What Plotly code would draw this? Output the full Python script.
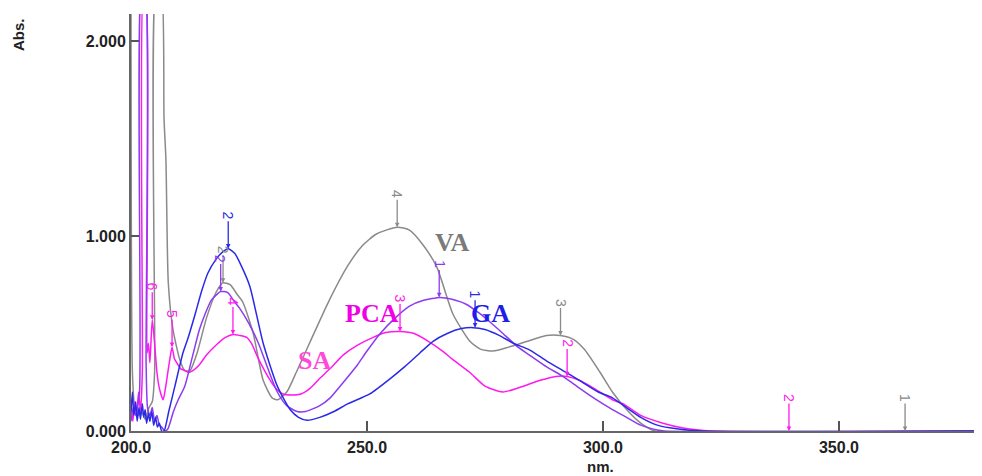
import plotly.graph_objects as go

# ---------------- data ----------------
va_nm = [200.0, 200.3, 200.8, 201.5, 202.2, 203.0, 203.8, 204.5, 205.0, 205.4, 206.3, 207.0, 207.4, 207.9,
         208.9, 210.4, 211.4, 212.5, 214.0, 216.0, 218.0, 219.5, 221.0, 222.5, 223.7, 225.9, 228.0, 229.9,
         231.1, 233.0, 235.0, 238.0, 242.0, 246.0, 249.0, 252.0, 256.4, 259.0, 262.0, 264.8, 268.2, 271.8,
         274.0, 276.7, 280.0, 284.0, 288.0, 291.0, 293.7, 296.0, 299.4, 302.0, 305.0, 308.0, 311.0, 380.0]
va_abs = [2.30, 0.30, 0.12, 0.08, 0.10, 0.06, 0.12, 0.15, 0.30, 2.30, 2.30, 1.60, 1.39, 0.76,
          0.52, 0.36, 0.31, 0.31, 0.40, 0.58, 0.71, 0.76, 0.75, 0.70, 0.66, 0.50, 0.26, 0.17,
          0.16, 0.20, 0.30, 0.46, 0.67, 0.85, 0.95, 1.01, 1.045, 1.03, 0.95, 0.84, 0.60, 0.46,
          0.42, 0.41, 0.43, 0.46, 0.49, 0.49, 0.47, 0.42, 0.30, 0.20, 0.11, 0.04, 0.0, 0.0]

ga_nm = [200.0, 200.3, 200.6, 201.0, 201.3, 201.7, 202.0, 202.4, 202.7, 203.0, 203.3, 203.7, 204.0, 204.4,
         204.8, 205.2, 205.6, 206.0, 206.5, 207.0, 208.0, 209.3, 211.0, 212.0, 213.6, 215.0, 216.3, 218.0,
         219.5, 220.6, 222.0, 223.5, 225.2, 228.0, 231.0, 233.7, 235.5, 237.3, 240.0, 243.0, 246.0, 250.6,
         255.0, 258.0, 261.2, 264.0, 267.0, 270.0, 272.5, 275.0, 278.0, 281.0, 284.5, 288.0, 291.5, 295.0,
         299.0, 302.0, 305.0, 308.0, 311.5, 316.0, 321.0, 380.0]
ga_abs = [0.10, 0.20, 0.08, 0.15, 0.05, 0.12, 0.06, 0.14, 0.07, 0.11, 0.04, 0.09, 0.05, 0.10,
          0.03, 0.07, 0.02, 0.04, 0.0, 0.0, 0.10, 0.23, 0.40, 0.47, 0.60, 0.72, 0.81, 0.88,
          0.92, 0.935, 0.91, 0.84, 0.74, 0.45, 0.23, 0.11, 0.07, 0.055, 0.07, 0.10, 0.14, 0.19,
          0.27, 0.33, 0.40, 0.46, 0.50, 0.525, 0.53, 0.52, 0.49, 0.45, 0.415, 0.36, 0.31, 0.26,
          0.20, 0.17, 0.12, 0.07, 0.03, 0.01, 0.0, 0.0]

sa_nm = [200.0, 200.5, 201.0, 201.8, 202.3, 202.9, 203.2, 203.5, 204.0, 204.5, 205.0, 205.5, 206.0, 206.5,
         207.2, 207.8, 209.0, 210.0, 211.4, 213.0, 214.5, 215.7, 217.0, 219.0, 220.5, 222.0, 223.0, 225.0,
         227.0, 229.0, 231.0, 233.0, 235.2, 237.0, 240.0, 242.2, 245.0, 248.0, 250.0, 252.8, 256.0, 259.0,
         262.0, 265.5, 268.0, 271.0, 274.0, 276.0, 278.8, 282.0, 285.0, 288.0, 291.5, 295.0, 298.0, 302.0,
         305.0, 308.0, 311.5, 313.0, 380.0]
sa_abs = [0.05, 0.12, 0.08, 0.20, 2.30, 2.30, 0.35, 0.12, 0.08, 0.12, 0.05, 0.08, 0.03, 0.02,
          0.0, 0.01, 0.10, 0.16, 0.23, 0.38, 0.52, 0.60, 0.67, 0.715, 0.71, 0.66, 0.63, 0.55,
          0.45, 0.32, 0.20, 0.13, 0.10, 0.10, 0.13, 0.17, 0.25, 0.34, 0.41, 0.50, 0.58, 0.64,
          0.67, 0.685, 0.675, 0.65, 0.60, 0.56, 0.50, 0.43, 0.38, 0.33, 0.28, 0.22, 0.17, 0.11,
          0.07, 0.03, 0.005, 0.0, 0.0]

pca_nm = [200.0, 200.4, 200.8, 201.2, 201.6, 202.0, 202.4, 202.7, 203.1, 203.4, 203.7, 204.0, 204.5, 205.0,
          205.5, 206.0, 206.8, 207.3, 207.8, 208.3, 208.7, 209.2, 209.7, 210.5, 211.4, 212.2, 213.1, 214.5,
          216.0, 218.0, 220.0, 221.6, 223.0, 224.5, 225.5, 227.0, 229.5, 231.0, 232.2, 234.0, 236.0, 238.0,
          240.0, 242.2, 245.0, 248.0, 251.3, 254.0, 257.0, 260.0, 263.0, 266.0, 268.0, 271.8, 275.0, 278.8,
          282.0, 286.7, 290.0, 292.4, 295.0, 298.0, 302.0, 304.2, 308.0, 312.7, 317.0, 323.0, 380.0]
pca_abs = [0.12, 0.05, 0.15, 0.08, 0.20, 0.10, 0.30, 2.30, 2.30, 0.40, 0.45, 0.35, 0.57, 0.45,
           0.30, 0.22, 0.16, 0.22, 0.30, 0.38, 0.43, 0.37, 0.35, 0.32, 0.31, 0.30, 0.31, 0.34,
           0.39, 0.44, 0.48, 0.495, 0.49, 0.48, 0.45, 0.37, 0.26, 0.21, 0.19, 0.185, 0.19, 0.22,
           0.27, 0.32, 0.39, 0.44, 0.48, 0.505, 0.51, 0.50, 0.46, 0.41, 0.37, 0.30, 0.23, 0.20,
           0.22, 0.26, 0.28, 0.28, 0.26, 0.22, 0.16, 0.14, 0.08, 0.04, 0.015, 0.0, 0.0]

# peak markers: (nm, abs, label)
va_peaks = [(219.5, 0.76, "2"), (256.4, 1.045, "4"), (291.0, 0.49, "3"), (364.0, 0.0, "1")]
ga_peaks = [(220.6, 0.935, "2"), (272.9, 0.53, "1")]
sa_peaks = [(219.0, 0.715, "2"), (265.3, 0.685, "1")]
pca_peaks = [(204.5, 0.57, "6"), (208.7, 0.43, "5"), (221.6, 0.495, "4"), (257.0, 0.51, "3"),
             (292.4, 0.28, "2"), (339.4, 0.0, "2")]

x_ticks = [200, 250, 300, 350]
x_tick_text = ["200.0", "250.0", "300.0", "350.0"]
y_ticks = [0, 1, 2]
y_tick_text = ["0.000", "1.000", "2.000"]

# ---------------- styling ----------------
C_VA = "#8a8a8a"
C_GA = "#2a2ae6"
C_SA = "#8c3cf0"
C_PCA = "#ff1aee"
SANS = "Liberation Sans, Arial"

fig = go.Figure()
for nm, ab, col in [(va_nm, va_abs, C_VA), (pca_nm, pca_abs, C_PCA), (sa_nm, sa_abs, C_SA), (ga_nm, ga_abs, C_GA)]:
    fig.add_trace(go.Scatter(x=nm, y=ab, mode="lines",
                             line=dict(color=col, width=1.5, shape="spline", smoothing=0.6),
                             showlegend=False, hoverinfo="skip"))

annots = []
for peaks, col in [(va_peaks, C_VA), (ga_peaks, C_GA), (sa_peaks, C_SA), (pca_peaks, C_PCA)]:
    for px, py, lab in peaks:
        annots.append(dict(x=px, y=py, xref="x", yref="y", text=lab, textangle=90,
                           showarrow=True, ax=0, ay=-33, arrowhead=2, arrowsize=0.7,
                           arrowwidth=1.3, arrowcolor=col,
                           font=dict(family=SANS, size=14, color=col)))

serif = "Liberation Serif, Times New Roman, serif"
for txt, x, y, col in [("VA", 268.0, 0.964, "#7a7a7a"), ("GA", 276.1, 0.60, "#1e1ee8"),
                       ("PCA", 251.1, 0.605, "#f000e6"), ("SA", 238.8, 0.364, "#ff4ad8")]:
    annots.append(dict(x=x, y=y, xref="x", yref="y", text=txt, showarrow=False,
                       xanchor="center", yanchor="middle",
                       font=dict(family=serif, size=26, color=col, weight="bold")))

annots.append(dict(x=-0.1328, y=0.952, xref="paper", yref="paper", text="Abs.", textangle=-90,
                   showarrow=False, xanchor="center", yanchor="middle",
                   font=dict(family=SANS, size=15, color="#222", weight="bold")))
annots.append(dict(x=0.552, y=-0.086, xref="paper", yref="paper", text="nm.", showarrow=False,
                   xanchor="center", yanchor="middle",
                   font=dict(family=SANS, size=15, color="#222", weight="bold")))

fig.update_layout(
    width=974, height=468,
    margin=dict(l=123, r=0, t=6, b=45),
    paper_bgcolor="white", plot_bgcolor="white",
    annotations=annots,
    xaxis=dict(range=[200, 380.3], showgrid=False, zeroline=False,
               showline=True, linecolor="#666", linewidth=2,
               ticks="inside", ticklen=10, tickwidth=1.5, tickcolor="#555",
               tickvals=x_ticks, ticktext=x_tick_text, ticklabelstandoff=1,
               tickfont=dict(family=SANS, size=16, color="#222", weight="bold")),
    yaxis=dict(range=[0, 2.138], showgrid=False, zeroline=False,
               showline=True, linecolor="#666", linewidth=2,
               ticks="inside", ticklen=8, tickwidth=1.5, tickcolor="#555",
               tickvals=y_ticks, ticktext=y_tick_text,
               tickfont=dict(family=SANS, size=16, color="#222", weight="bold")),
)

fig.write_html("out.html")
